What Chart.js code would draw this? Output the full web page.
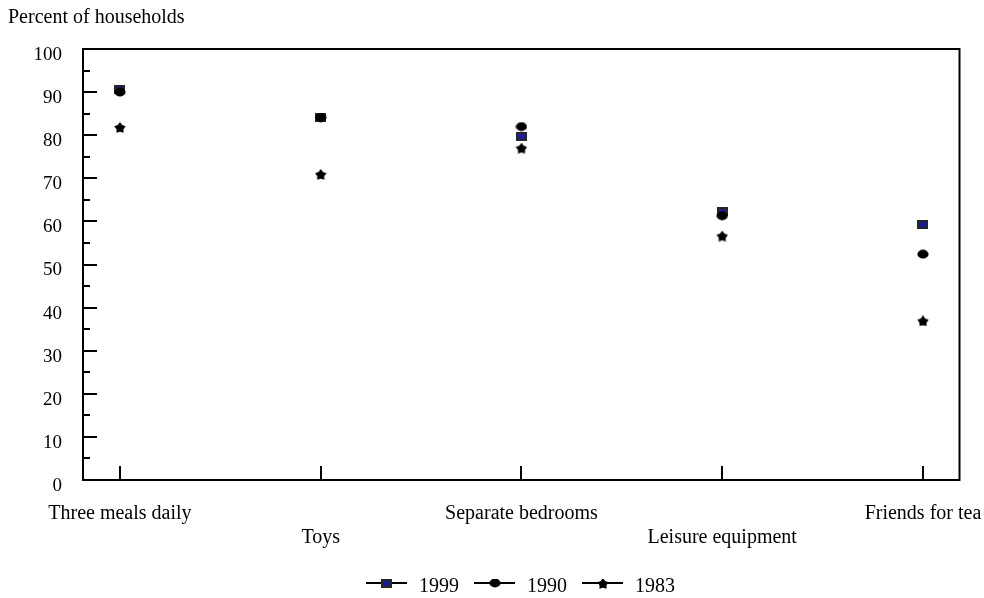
<!DOCTYPE html>
<html>
<head>
<meta charset="utf-8">
<script src="https://cdn.jsdelivr.net/npm/chart.js@4.4.1/dist/chart.umd.min.js"></script>
<style>
  html, body { margin: 0; padding: 0; background: #fff; }
  #wrap { width: 984px; height: 598px; }
</style>
</head>
<body>
<div id="wrap"><canvas id="c"></canvas></div>
<script>
// Household items survey: three years shown as markers only (no connecting lines).
const categories = ['Three meals daily', 'Toys', 'Separate bedrooms', 'Leisure equipment', 'Friends for tea'];
const years = ['1999', '1990', '1983'];
const pct1999 = [90.7, 84.1, 79.7, 62.2, 59.3];
const pct1990 = [90.0, 84.1, 82.0, 61.3, 52.4];
const pct1983 = [81.8, 70.9, 77.0, 56.6, 36.9];
const yMajor = [0, 10, 20, 30, 40, 50, 60, 70, 80, 90, 100];

const SERIF = '"Liberation Serif", "Times New Roman", serif';

function makeCanvas(w, h) {
  const c = document.createElement('canvas');
  c.width = w; c.height = h;
  return c;
}

// marker glyphs
function squareMark() {
  const c = makeCanvas(11, 9), g = c.getContext('2d');
  g.fillStyle = '#262626'; g.fillRect(0, 0, 11, 9);
  g.fillStyle = '#1c1c94'; g.fillRect(2, 2, 7, 5);
  return c;
}
function circleMark() {
  const c = makeCanvas(12, 10), g = c.getContext('2d');
  g.fillStyle = '#000';
  g.beginPath(); g.ellipse(6, 5, 5.6, 4.4, 0, 0, Math.PI * 2); g.fill();
  return c;
}
function starMark() {
  const c = makeCanvas(12, 11), g = c.getContext('2d');
  g.fillStyle = '#000';
  g.beginPath();
  for (let i = 0; i < 10; i++) {
    const r = i % 2 ? 3.7 : 6;
    const a = -Math.PI / 2 + i * Math.PI / 5;
    const px = 6 + r * Math.cos(a), py = 6 + r * Math.sin(a);
    i ? g.lineTo(px, py) : g.moveTo(px, py);
  }
  g.closePath(); g.fill();
  return c;
}

const marks = [squareMark(), circleMark(), starMark()];

// legend swatch: short line with the marker in the middle
function legendSwatch(mark) {
  const c = makeCanvas(48, 16), g = c.getContext('2d');
  g.strokeStyle = '#000'; g.lineWidth = 2;
  g.beginPath(); g.moveTo(5, 4); g.lineTo(46, 4); g.stroke();
  g.drawImage(mark, Math.round(25.5 - mark.width / 2), Math.round(4 - mark.height / 2));
  return c;
}
const swatches = marks.map(legendSwatch);

const framePlugin = {
  id: 'frame-ticks',
  beforeDatasetsDraw(chart) {
    const { ctx, chartArea: a, scales: { x, y } } = chart;
    ctx.save();
    ctx.strokeStyle = '#000';
    ctx.lineWidth = 2;
    ctx.strokeRect(a.left, a.top, a.right - a.left, a.bottom - a.top);
    ctx.beginPath();
    for (const v of yMajor) {
      const py = Math.round(y.getPixelForValue(v));
      ctx.moveTo(a.left, py); ctx.lineTo(a.left + 14, py);
      if (v < 100) {
        const pm = Math.round(y.getPixelForValue(v + 5));
        ctx.moveTo(a.left, pm); ctx.lineTo(a.left + 7, pm);
      }
    }
    categories.forEach((_, i) => {
      const px = Math.round(x.getPixelForValue(i));
      ctx.moveTo(px, a.bottom); ctx.lineTo(px, a.bottom - 14);
    });
    ctx.stroke();
    ctx.restore();
  },
};

const series = [pct1999, pct1990, pct1983];
const datasets = years.map((yr, i) => ({
  label: yr,
  data: series[i].map((v, k) => ({ x: k, y: v })),
  showLine: false,
  pointStyle: marks[i],
  pointRadius: 5,
  pointHoverRadius: 5,
  // 1990 circles sit over the 1999 squares in the original
  order: [1, 0, 2][i],
}));

new Chart(document.getElementById('c'), {
  type: 'scatter',
  data: { datasets },
  options: {
    responsive: true, maintainAspectRatio: false, animation: false,
    layout: { padding: { left: 8, right: -44, top: 0, bottom: -9 } },
    scales: {
      x: {
        type: 'linear', min: -0.184, max: 4.182,
        afterBuildTicks: s => { s.ticks = categories.map((_, i) => ({ value: i })); },
        // paddingRight is measured from the canvas edge (layout padding included)
        afterFit: s => { s.height = 87; s.paddingLeft = 0; s.paddingRight = 24.5; },
        grid: { display: false, drawTicks: false },
        border: { display: false },
        ticks: {
          color: '#000', padding: 22, maxRotation: 0, autoSkip: false,
          font: { family: SERIF, size: 20, lineHeight: 1.2 },
          callback: (v, i) => (i % 2 ? ['', categories[v]] : categories[v]),
        },
      },
      y: {
        min: 0, max: 100,
        afterFit: s => { s.width = 75; s.paddingTop = 0; s.paddingBottom = 0; },
        grid: { display: false, drawTicks: false },
        border: { display: false },
        ticks: {
          stepSize: 10, color: '#000', padding: 21, labelOffset: 6,
          font: { family: SERIF, size: 19 },
        },
      },
    },
    plugins: {
      tooltip: { enabled: false },
      title: {
        display: true, text: 'Percent of households', align: 'start', color: '#000',
        font: { family: SERIF, size: 20, weight: 'normal', lineHeight: 1.2 },
        padding: { top: 6, bottom: 19 },
      },
      legend: {
        position: 'bottom', align: 'center',
        labels: {
          usePointStyle: true, pointStyleWidth: 48, padding: 10, color: '#000',
          font: { family: SERIF, size: 20 },
          generateLabels: chart => chart.data.datasets.map((ds, i) => ({
            text: ds.label, pointStyle: swatches[i], datasetIndex: i,
            fillStyle: '#000', strokeStyle: '#000', lineWidth: 0, hidden: false, fontColor: '#000',
          })),
        },
      },
    },
  },
  plugins: [framePlugin],
});
</script>
</body>
</html>
